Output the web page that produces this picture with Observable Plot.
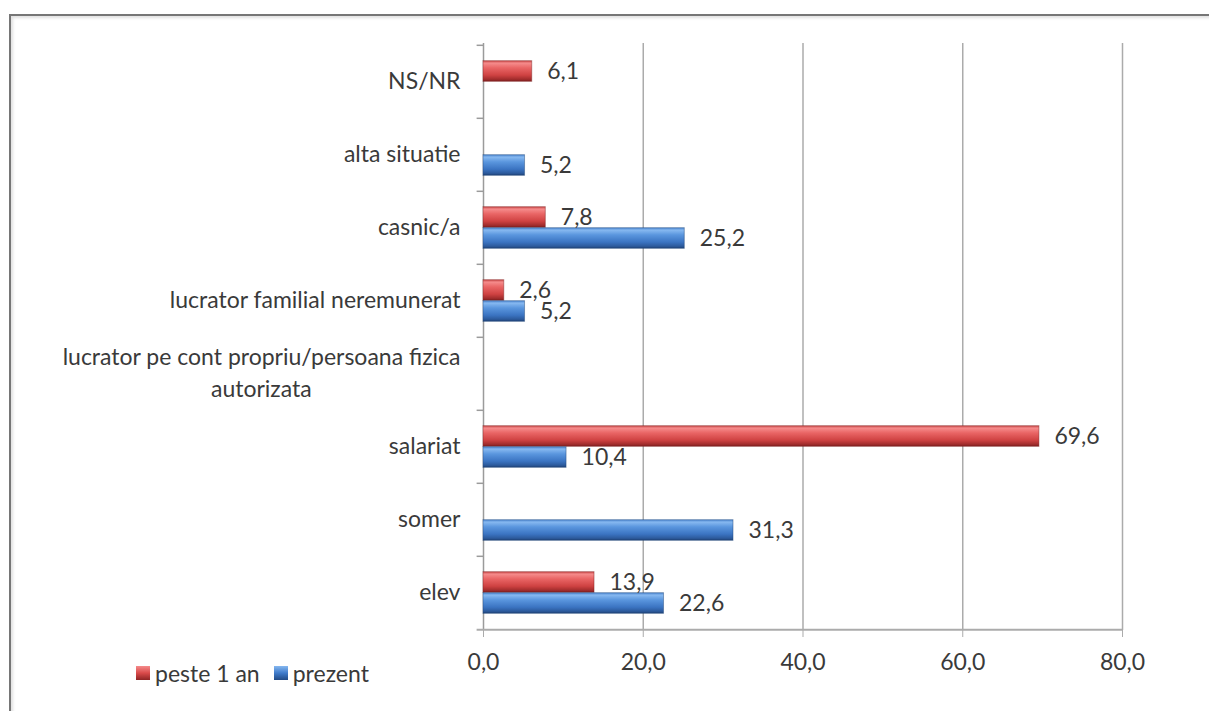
<!DOCTYPE html>
<html><head><meta charset="utf-8">
<script src="https://cdn.jsdelivr.net/npm/d3@7"></script>
<script src="https://cdn.jsdelivr.net/npm/@observablehq/plot@0.6"></script>
<style>
body{margin:0;background:#fff;font-family:Lato,"Open Sans",sans-serif;}
#wrap{position:relative;width:1209px;height:711px;overflow:hidden;background:#fff}
#frame{position:absolute;left:9px;top:14px;width:1300px;height:800px;border-top:2px solid #767676;border-left:2px solid #767676;box-shadow:inset 2px 2px 3px rgba(0,0,0,0.12)}
#chart{position:absolute;left:0;top:0}
#legend{position:absolute;left:136px;top:659px;display:flex;align-items:center;font-size:23px;color:#3a3a3a;font-family:Lato,sans-serif}
.sw{width:14px;height:14px;display:inline-block;margin-right:5px}
.item{display:flex;align-items:center;margin-right:14px}
</style></head>
<body>
<div id="wrap"><div id="frame"></div><div id="chart"></div><div id="legend"></div></div>
<script>
// ---- data ----
const categories = ["NS/NR","alta situatie","casnic/a","lucrator familial neremunerat","lucrator pe cont propriu/persoana fizica autorizata","salariat","somer","elev"];
const categoryLabels = ["NS/NR","alta situatie","casnic/a","lucrator familial neremunerat","lucrator pe cont propriu/persoana fizica\nautorizata","salariat","somer","elev"];
const series = ["peste 1 an","prezent"];
const peste1an = [6.1, null, 7.8, 2.6, null, 69.6, null, 13.9];
const prezent  = [null, 5.2, 25.2, 5.2, null, 10.4, 31.3, 22.6];
const xTicks = [0, 20, 40, 60, 80];

// ---- layout ----
const W = 1209, H = 711, mt = 43, mb = 81, ml = 483, mr = 87;
const band = (H - mt - mb) / categories.length;
const barH = 21;
const fontSize = 23;
const fmt = d => d.toFixed(1).replace(".", ",");

const rowsRed = categories.map((c, i) => ({cat: c, v: peste1an[i]})).filter(d => d.v != null);
const rowsBlue = categories.map((c, i) => ({cat: c, v: prezent[i]})).filter(d => d.v != null);

const labelRows = categories.map((c, i) => ({cat: c, lines: categoryLabels[i].split("\n")}));
const single = labelRows.filter(d => d.lines.length === 1);
const multi = labelRows.filter(d => d.lines.length > 1);

const cv = document.createElement("canvas").getContext("2d");
cv.font = `${fontSize}px Lato`;
const lineGap = 32;

const textColor = "#3a3a3a";
const marks = [
  Plot.ruleX(xTicks.filter(t => t > 0), {stroke: "#ababab", strokeWidth: 1.5}),
  Plot.ruleX([0], {stroke: "#9b9b9b", strokeWidth: 1.5}),
  Plot.ruleY(categories, {y: d => d, x1: -0.8, x2: 0, dy: -band / 2, stroke: "#9b9b9b", strokeWidth: 1.5}),
  Plot.ruleY([categories[categories.length - 1]], {y: d => d, x1: -0.8, x2: 80, dy: band / 2, stroke: "#ababab", strokeWidth: 2}),
  Plot.axisX({ticks: xTicks, tickSize: 7, tickPadding: 16, tickFormat: fmt, label: null, stroke: "#ababab", fill: textColor, fontSize: fontSize}),
  Plot.barX(rowsRed, {y: "cat", x: "v", fill: "url(#gRed)", stroke: "#7d1e1e", strokeOpacity: 0.45, insetTop: band / 2 - barH, insetBottom: band / 2}),
  Plot.barX(rowsBlue, {y: "cat", x: "v", fill: "url(#gBlue)", stroke: "#1f4478", strokeOpacity: 0.45, insetTop: band / 2, insetBottom: band / 2 - barH}),
  Plot.text(rowsRed, {y: "cat", x: "v", text: d => fmt(d.v), dx: 15, dy: -barH / 2, textAnchor: "start", fill: textColor, fontSize: fontSize}),
  Plot.text(rowsBlue, {y: "cat", x: "v", text: d => fmt(d.v), dx: 15, dy: barH / 2, textAnchor: "start", fill: textColor, fontSize: fontSize}),
  Plot.text(single, {y: "cat", x: 0, text: d => d.lines[0], dx: -23, textAnchor: "end", fill: textColor, fontSize: fontSize}),
  Plot.text(multi, {y: "cat", x: 0, text: d => d.lines[0], dx: -23, dy: -lineGap / 2, textAnchor: "end", fill: textColor, fontSize: fontSize}),
  ...multi.map(d => Plot.text([d], {y: "cat", x: 0, text: r => r.lines.slice(1).join(" "), dx: -23 - cv.measureText(d.lines[0]).width / 2, dy: lineGap / 2, textAnchor: "middle", fill: textColor, fontSize: fontSize}))
];

const chart = Plot.plot({
  width: W, height: H,
  marginTop: mt, marginBottom: mb, marginLeft: ml, marginRight: mr,
  x: {domain: [0, 80], axis: null},
  y: {type: "band", domain: categories, padding: 0, axis: null},
  style: {fontFamily: "Lato, sans-serif", fontSize: fontSize + "px", color: textColor, background: "transparent", overflow: "visible"},
  marks
});

const defs = `<defs>
<linearGradient id="gRed" x1="0" y1="0" x2="0" y2="1">
<stop offset="0" stop-color="#c94848"/><stop offset="0.12" stop-color="#f58b8b"/><stop offset="0.35" stop-color="#e96565"/>
<stop offset="0.7" stop-color="#cf4242"/><stop offset="0.9" stop-color="#a22d2d"/><stop offset="1" stop-color="#7e2020"/></linearGradient>
<linearGradient id="gBlue" x1="0" y1="0" x2="0" y2="1">
<stop offset="0" stop-color="#4c86d0"/><stop offset="0.12" stop-color="#86b8f0"/><stop offset="0.35" stop-color="#5a96de"/>
<stop offset="0.7" stop-color="#3b74c2"/><stop offset="0.9" stop-color="#2c5a9c"/><stop offset="1" stop-color="#1f4273"/></linearGradient>
</defs>`;
chart.insertAdjacentHTML("afterbegin", defs);
document.getElementById("chart").appendChild(chart);

const legend = document.getElementById("legend");
const swFill = {"peste 1 an": "linear-gradient(#f58b8b,#d94a4a 50%,#8e2424)", "prezent": "linear-gradient(#86b8f0,#3f7bcb 50%,#214a85)"};
series.forEach(s => {
  const it = document.createElement("span"); it.className = "item";
  const sw = document.createElement("span"); sw.className = "sw"; sw.style.background = swFill[s];
  it.appendChild(sw); it.appendChild(document.createTextNode(s));
  legend.appendChild(it);
});
</script>
</body></html>
